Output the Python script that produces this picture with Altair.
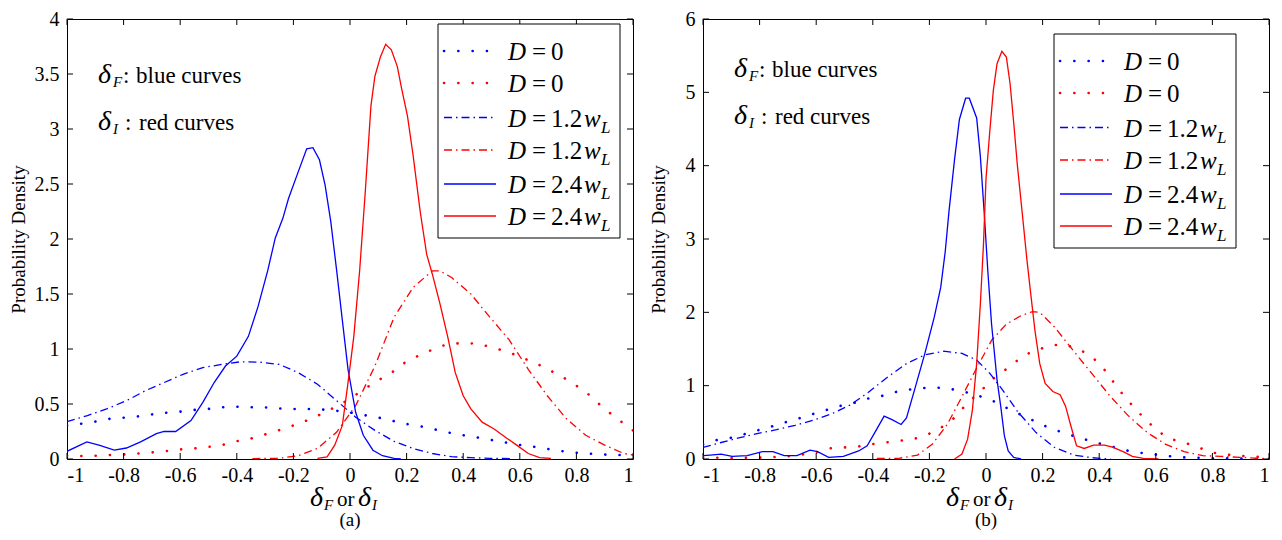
import altair as alt
import pandas as pd

FONT = "Liberation Serif"
BLUE = "#0000ff"
RED = "#ff0000"

# ---------------- data: panel (a) ----------------
x_ticks = [-1, -0.8, -0.6, -0.4, -0.2, 0, 0.2, 0.4, 0.6, 0.8, 1]
a_yticks = [0, 0.5, 1, 1.5, 2, 2.5, 3, 3.5, 4]
b_yticks = [0, 1, 2, 3, 4, 5, 6]

a_f0_x = [-1, -0.952, -0.9, -0.85, -0.8, -0.75, -0.7, -0.65, -0.6, -0.55, -0.5, -0.454, -0.404, -0.35, -0.305,
          -0.253, -0.2, -0.153, -0.1, -0.054, -0.004, 0.047, 0.095, 0.145, 0.196, 0.244, 0.29, 0.34, 0.39, 0.44,
          0.49, 0.54, 0.59, 0.636, 0.687, 0.738, 0.785, 0.837, 0.887, 0.938, 0.988, 1.0]
a_f0_y = [0.305, 0.32, 0.34, 0.365, 0.375, 0.387, 0.405, 0.42, 0.43, 0.446, 0.455, 0.47, 0.476, 0.47, 0.47,
          0.46, 0.455, 0.455, 0.45, 0.44, 0.425, 0.40, 0.38, 0.35, 0.32, 0.30, 0.275, 0.245, 0.22, 0.2,
          0.177, 0.155, 0.13, 0.117, 0.096, 0.075, 0.06, 0.05, 0.042, 0.036, 0.036, 0.035]

a_i0_x = [-1, -0.95, -0.9, -0.85, -0.8, -0.75, -0.7, -0.65, -0.6, -0.55, -0.5, -0.454, -0.404, -0.35, -0.305,
          -0.253, -0.2, -0.153, -0.1, -0.054, -0.004, 0.047, 0.095, 0.145, 0.183, 0.226, 0.27, 0.318, 0.365,
          0.415, 0.465, 0.515, 0.562, 0.609, 0.654, 0.70, 0.745, 0.788, 0.829, 0.867, 0.907, 0.944, 0.982, 1.0]
a_i0_y = [0.03, 0.027, 0.03, 0.036, 0.042, 0.05, 0.06, 0.072, 0.087, 0.096, 0.11, 0.126, 0.16, 0.186, 0.22,
          0.26, 0.305, 0.35, 0.41, 0.47, 0.54, 0.63, 0.71, 0.78, 0.86, 0.92, 0.97, 1.025, 1.05,
          1.055, 1.04, 1.005, 0.97, 0.92, 0.875, 0.815, 0.755, 0.686, 0.62, 0.53, 0.44, 0.37, 0.29, 0.26]

a_f12_x = [-1, -0.928, -0.86, -0.79, -0.724, -0.657, -0.59, -0.52, -0.454, -0.386, -0.318, -0.25, -0.183,
           -0.115, -0.047, 0.02, 0.088, 0.156, 0.223, 0.291, 0.359, 0.427, 0.494, 0.57]
a_f12_y = [0.34, 0.395, 0.455, 0.53, 0.62, 0.695, 0.77, 0.83, 0.86, 0.884, 0.88, 0.86, 0.785,
           0.68, 0.53, 0.38, 0.26, 0.16, 0.096, 0.05, 0.021, 0.012, 0.006, 0.004]

a_i12_x = [-0.345, -0.25, -0.183, -0.115, -0.047, 0.02, 0.088, 0.156, 0.223, 0.291, 0.318, 0.359, 0.427,
           0.494, 0.562, 0.63, 0.697, 0.765, 0.833, 0.90, 0.968, 1.0]
a_i12_y = [0.004, 0.006, 0.03, 0.096, 0.245, 0.485, 0.845, 1.29, 1.56, 1.71, 1.71, 1.65, 1.50,
           1.29, 1.085, 0.815, 0.575, 0.365, 0.216, 0.126, 0.05, 0.036]

a_f24_x = [-1, -0.93, -0.887, -0.833, -0.79, -0.74, -0.684, -0.657, -0.616, -0.562, -0.52, -0.48, -0.44,
           -0.40, -0.359, -0.325, -0.291, -0.264, -0.237, -0.217, -0.183, -0.153, -0.131, -0.108, -0.088,
           -0.068, -0.047, -0.027, -0.007, 0.02, 0.047, 0.081, 0.115, 0.156, 0.18]
a_f24_y = [0.07, 0.155, 0.126, 0.08, 0.10, 0.155, 0.23, 0.25, 0.25, 0.35, 0.515, 0.695, 0.845,
           0.935, 1.115, 1.385, 1.71, 2.01, 2.19, 2.37, 2.61, 2.82, 2.83, 2.72, 2.49,
           2.16, 1.71, 1.26, 0.815, 0.425, 0.216, 0.08, 0.03, 0.006, 0.0]

a_i24_x = [-0.115, -0.081, -0.054, -0.027, -0.007, 0.0135, 0.034, 0.054, 0.074, 0.088, 0.108, 0.126, 0.146,
           0.167, 0.183, 0.203, 0.223, 0.248, 0.271, 0.291, 0.318, 0.345, 0.372, 0.40, 0.427, 0.467, 0.508,
           0.548, 0.589, 0.63, 0.67, 0.71]
a_i24_y = [0.005, 0.02, 0.126, 0.305, 0.695, 1.115, 1.71, 2.43, 3.21, 3.48, 3.66, 3.77, 3.72,
           3.57, 3.36, 3.12, 2.76, 2.25, 1.86, 1.68, 1.41, 1.115, 0.785, 0.575, 0.455, 0.335, 0.275,
           0.2, 0.126, 0.05, 0.012, 0.005]

# ---------------- data: panel (b) ----------------
b_f0_x = [-1, -0.95, -0.90, -0.855, -0.808, -0.76, -0.71, -0.664, -0.615, -0.567, -0.52, -0.47, -0.423,
          -0.373, -0.325, -0.275, -0.226, -0.177, -0.127, -0.079, -0.03, 0.016, 0.06, 0.109, 0.154, 0.196,
          0.242, 0.29, 0.34, 0.386, 0.436, 0.484, 0.533, 0.585, 0.635, 0.685, 0.733, 0.78, 0.83, 0.883,
          0.933, 0.98, 1.0]
b_f0_y = [0.2, 0.26, 0.29, 0.337, 0.39, 0.44, 0.50, 0.55, 0.61, 0.665, 0.72, 0.76, 0.82,
          0.854, 0.91, 0.944, 0.966, 0.975, 0.957, 0.92, 0.867, 0.81, 0.72, 0.63, 0.55, 0.47,
          0.40, 0.337, 0.28, 0.225, 0.18, 0.126, 0.09, 0.067, 0.045, 0.022, 0.022, 0.009, 0.009, 0.009,
          0.0, 0.0, 0.0]

b_i0_x = [-1, -0.903, -0.805, -0.70, -0.609, -0.556, -0.507, -0.458, -0.408, -0.356, -0.308, -0.258, -0.209,
          -0.164, -0.118, -0.092, -0.059, -0.02, 0.02, 0.056, 0.096, 0.137, 0.183, 0.229, 0.275, 0.32, 0.366,
          0.406, 0.438, 0.465, 0.497, 0.53, 0.563, 0.602, 0.641, 0.687, 0.74, 0.792, 0.838, 0.883, 0.936,
          0.988]
b_i0_y = [0.022, 0.013, 0.018, 0.036, 0.08, 0.144, 0.157, 0.166, 0.20, 0.225, 0.247, 0.27, 0.328,
          0.413, 0.54, 0.65, 0.787, 0.92, 1.08, 1.18, 1.30, 1.42, 1.49, 1.55, 1.56, 1.51, 1.42,
          1.28, 1.12, 0.966, 0.82, 0.674, 0.54, 0.40, 0.29, 0.234, 0.18, 0.09, 0.067, 0.045, 0.036,
          0.022]

b_f12_x = [-1, -0.936, -0.87, -0.805, -0.74, -0.674, -0.609, -0.543, -0.478, -0.412, -0.347, -0.281, -0.216,
           -0.15, -0.085, -0.033, 0.013, 0.059, 0.111, 0.177, 0.242, 0.31, 0.373, 0.44]
b_f12_y = [0.157, 0.225, 0.29, 0.35, 0.40, 0.46, 0.53, 0.62, 0.74, 0.92, 1.12, 1.30, 1.42,
           1.47, 1.44, 1.35, 1.17, 0.94, 0.65, 0.36, 0.157, 0.054, 0.018, 0.0]

b_i12_x = [-0.386, -0.308, -0.242, -0.19, -0.137, -0.085, -0.033, 0.02, 0.072, 0.124, 0.164, 0.19, 0.242,
           0.308, 0.373, 0.44, 0.504, 0.57, 0.635, 0.70, 0.766, 0.83, 0.897, 0.962, 1.0]
b_i12_y = [0.009, 0.009, 0.054, 0.20, 0.47, 0.85, 1.24, 1.62, 1.84, 1.955, 2.01, 2.0, 1.80,
           1.48, 1.17, 0.85, 0.585, 0.36, 0.20, 0.1, 0.045, 0.036, 0.022, 0.009, 0.009]

b_f24_x = [-1, -0.975, -0.936, -0.897, -0.844, -0.79, -0.753, -0.713, -0.668, -0.622, -0.595, -0.556, -0.504,
           -0.45, -0.42, -0.393, -0.36, -0.334, -0.30, -0.281, -0.249, -0.216, -0.183, -0.16, -0.144, -0.131,
           -0.111, -0.094, -0.072, -0.059, -0.033, -0.02, -0.0065, 0.0065, 0.0196, 0.039, 0.052, 0.065,
           0.0785, 0.098, 0.124]
b_f24_y = [0.045, 0.054, 0.067, 0.036, 0.045, 0.1, 0.1, 0.045, 0.045, 0.12, 0.1, 0.022, 0.036,
           0.11, 0.18, 0.36, 0.585, 0.54, 0.47, 0.56, 0.99, 1.44, 1.93, 2.34, 2.83, 3.37,
           4.09, 4.63, 4.92, 4.92, 4.65, 4.13, 3.37, 2.56, 1.84, 1.08, 0.72, 0.315,
           0.11, 0.022, 0.0]

b_i24_x = [-0.111, -0.085, -0.065, -0.048, -0.033, -0.02, -0.009, 0.0, 0.013, 0.026, 0.039, 0.056, 0.072,
           0.085, 0.098, 0.111, 0.131, 0.144, 0.157, 0.173, 0.19, 0.209, 0.236, 0.262, 0.281, 0.30, 0.32,
           0.347, 0.38, 0.419, 0.45, 0.49, 0.517, 0.556, 0.61]
b_i24_y = [0.0, 0.067, 0.27, 0.67, 1.30, 2.11, 2.92, 3.82, 4.45, 5.03, 5.39, 5.56, 5.48,
           5.12, 4.58, 4.0, 3.24, 2.74, 2.29, 1.75, 1.30, 1.03, 0.92, 0.876, 0.72, 0.45, 0.18,
           0.144, 0.19, 0.19, 0.157, 0.09, 0.036, 0.009, 0.0]

legend_values = ["0", "0", "1.2", "1.2", "2.4", "2.4"]
legend_colors = [BLUE, RED, BLUE, RED, BLUE, RED]
legend_kinds = ["dot", "dot", "dashdot", "dashdot", "solid", "solid"]

# ---------------- layout ----------------
W = 566
H = 440
TOP = 18  # expected page y of plot top
ONE = pd.DataFrame({"k": [0]})


def style(kind):
    if kind == "dot":
        return dict(strokeDash=[0.1, 14.2], strokeWidth=2.6, strokeCap="round")
    if kind == "dashdot":
        return dict(strokeDash=[8, 4, 1.5, 4], strokeWidth=1.3)
    return dict(strokeWidth=1.3)


def txt(s, x, y, size, italic=False, align="left"):
    return alt.Chart(ONE).mark_text(
        text=s, font=FONT, fontSize=size, fontStyle="italic" if italic else "normal",
        align=align, baseline="alphabetic", color="black"
    ).encode(x=alt.value(x), y=alt.value(y))


LABEL_EXPR = "datum.value < 0 ? '-' + format(-datum.value, '~g') : format(datum.value, '~g')"


def panel(series, ymax, yticks, box_x, box_y, note_y, tag, title_pad):
    xs = alt.Scale(domain=[-1, 1], nice=False, zero=False)
    ys = alt.Scale(domain=[0, ymax], nice=False)
    xaxis = alt.Axis(values=x_ticks, title=None, labelExpr=LABEL_EXPR, ticks=False, domain=False,
                     grid=False, labelFont=FONT, labelFontSize=20, labelPadding=6, labelColor="black")
    yaxis = alt.Axis(values=yticks, title="Probability Density", labelExpr=LABEL_EXPR, ticks=False,
                     domain=False, grid=False, labelFont=FONT, labelFontSize=20, labelPadding=8,
                     labelColor="black", titleFont=FONT, titleFontSize=19, titleFontWeight="normal",
                     titleColor="black", titlePadding=title_pad)
    X = alt.X("x:Q", scale=xs, axis=xaxis)
    Y = alt.Y("y:Q", scale=ys, axis=yaxis)
    layers = []
    for xv, yv, color, kind in series:
        df = pd.DataFrame({"x": xv, "y": yv})
        layers.append(alt.Chart(df).mark_line(color=color, clip=True, **style(kind)).encode(x=X, y=Y))
    # inward ticks on all four sides
    xt = pd.DataFrame({"x": x_ticks})
    yt = pd.DataFrame({"y": yticks})
    layers.append(alt.Chart(xt).mark_rule(color="black", strokeWidth=1).encode(
        x=X, y=alt.value(H), y2=alt.value(H - 6)))
    layers.append(alt.Chart(xt).mark_rule(color="black", strokeWidth=1).encode(
        x=X, y=alt.value(0), y2=alt.value(6)))
    layers.append(alt.Chart(yt).mark_rule(color="black", strokeWidth=1).encode(
        y=Y, x=alt.value(0), x2=alt.value(6)))
    layers.append(alt.Chart(yt).mark_rule(color="black", strokeWidth=1).encode(
        y=Y, x=alt.value(W - 6), x2=alt.value(W)))
    # legend box
    layers.append(alt.Chart(ONE).mark_rect(fill="white", stroke="black", strokeWidth=1).encode(
        x=alt.value(box_x), x2=alt.value(box_x + 182), y=alt.value(box_y), y2=alt.value(box_y + 214)))
    rows = [27, 59, 93.5, 126, 160, 192]
    for i, ry in enumerate(rows):
        yy = box_y + ry
        layers.append(alt.Chart(ONE).mark_rule(color=legend_colors[i], **style(legend_kinds[i])).encode(
            x=alt.value(box_x + 6), x2=alt.value(box_x + 58), y=alt.value(yy)))
        bl = yy + 9
        layers.append(txt("D", box_x + 70, bl, 25, italic=True))
        layers.append(txt("=", box_x + 94, bl, 25))
        layers.append(txt(legend_values[i], box_x + 113, bl, 25))
        if legend_values[i] != "0":
            layers.append(txt("w", box_x + 146, bl, 25, italic=True))
            layers.append(txt("L", box_x + 163, bl + 6, 17, italic=True))
    # annotations
    n1, n2 = note_y, note_y + 47.6
    layers.append(txt("δ", 31, n1, 28, italic=True))
    layers.append(txt("F", 46, n1 + 4, 15, italic=True))
    layers.append(txt(":", 56, n1, 23))
    layers.append(txt("blue curves", 69, n1, 23))
    layers.append(txt("δ", 31, n2, 28, italic=True))
    layers.append(txt("I", 46, n2 + 4, 15, italic=True))
    layers.append(txt(":", 58, n2, 23))
    layers.append(txt("red curves", 72, n2, 23))
    # x-axis title and panel tag
    cx = W / 2
    tb = H + 47
    layers.append(txt("δ", cx - 40, tb, 28, italic=True))
    layers.append(txt("F", cx - 26, tb + 4, 15, italic=True))
    layers.append(txt("or", cx - 13, tb, 21))
    layers.append(txt("δ", cx + 8, tb, 28, italic=True))
    layers.append(txt("I", cx + 22, tb + 4, 15, italic=True))
    layers.append(txt(tag, cx, H + 67, 19, align="center"))
    return alt.layer(*layers).properties(width=W, height=H)


pa = panel([
    (a_f0_x, a_f0_y, BLUE, "dot"), (a_i0_x, a_i0_y, RED, "dot"),
    (a_f12_x, a_f12_y, BLUE, "dashdot"), (a_i12_x, a_i12_y, RED, "dashdot"),
    (a_f24_x, a_f24_y, BLUE, "solid"), (a_i24_x, a_i24_y, RED, "solid"),
], 4, a_yticks, 371, 23 - TOP, 81.7 - TOP, "(a)", 6)

pb = panel([
    (b_f0_x, b_f0_y, BLUE, "dot"), (b_i0_x, b_i0_y, RED, "dot"),
    (b_f12_x, b_f12_y, BLUE, "dashdot"), (b_i12_x, b_i12_y, RED, "dashdot"),
    (b_f24_x, b_f24_y, BLUE, "solid"), (b_i24_x, b_i24_y, RED, "solid"),
], 6, b_yticks, 351, 33 - TOP, 75.5 - TOP, "(b)", 17)

chart = alt.hconcat(pa, pb, spacing=70, bounds="flush").properties(
    padding={"left": 0, "top": 0, "right": 4, "bottom": 0}
).configure_view(stroke="black", strokeWidth=1)

chart.save("out.html", embed_options={"renderer": "svg", "actions": False})
